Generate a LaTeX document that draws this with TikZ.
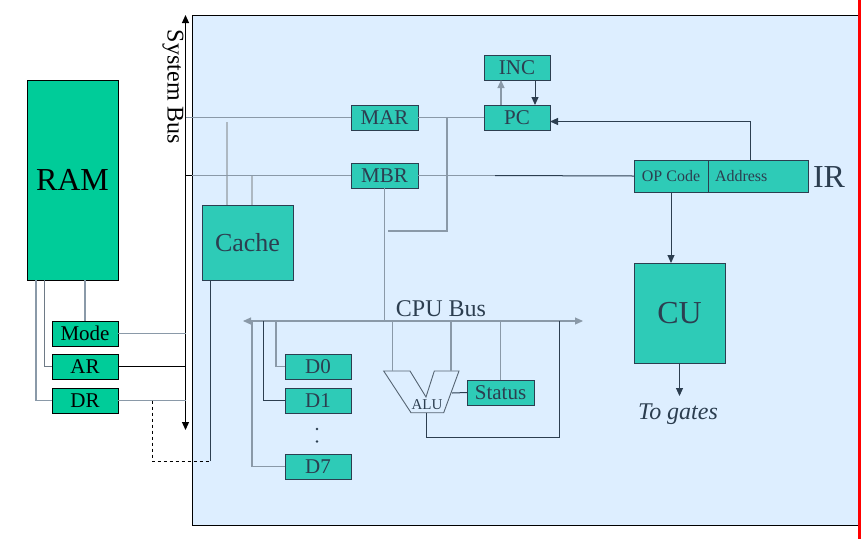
\documentclass[tikz,border=0pt]{standalone}
\usepackage{fontspec}
\setmainfont{Liberation Serif}
\usetikzlibrary{calc,arrows.meta}
\definecolor{panelblue}{HTML}{DDEEFF}
\definecolor{ramgreen}{HTML}{00CC99}
\definecolor{regteal}{HTML}{2ECBB7}
\definecolor{slate}{HTML}{2C3E50}
\definecolor{busgray}{HTML}{8A99A8}
\newcommand{\fsz}[1]{\fontsize{#1}{#1}\selectfont}
\tikzset{
  ramblk/.style={draw=black, fill=ramgreen, inner sep=0, outer sep=0, text=black},
  regblk/.style={draw=slate, fill=regteal, inner sep=0, outer sep=0, text=slate},
  busline/.style={draw=busgray, line width=1.1pt},
  wire/.style={draw=slate, line width=1pt},
  >={Triangle[length=8pt,width=7pt]}
}

\begin{document}
\begin{tikzpicture}[x=1pt,y=-1pt]
			%%%%% START %%%%%
			\useasboundingbox (0,0) rectangle (866,539);
			\draw[fill=panelblue] (192,15) rectangle (859,525);
			\draw[red, line width=3pt] (859.5,0) -- (859.5,539);
			
			% system bus
			\coordinate (sbtop) at (185.5,15);
			\coordinate (sbbot) at (185.5,430);
			\draw[<->, line width=1.2pt] (sbtop) -- (sbbot);
			\node[rotate=-90, font=\fsz{24}] (sblabel) at (173,87) {System Bus};
			
			% memory side
			\node[ramblk, minimum width=91pt, minimum height=200pt, font=\fsz{32}] (ram) at (72.5,180) {RAM};
			\node[ramblk, minimum width=66pt, minimum height=25pt, font=\fsz{21}] (mode) at (85,333.5) {Mode};
			\node[ramblk, minimum width=66pt, minimum height=25pt, font=\fsz{21}] (ar) at (85,366.5) {AR};
			\node[ramblk, minimum width=66pt, minimum height=25pt, font=\fsz{21}] (dr) at (85,400.5) {DR};
			
			\draw[busline] (mode.north) -- (mode.north |- ram.south);
			\draw[wire, draw=busgray!80!black] (ar.west) -| ($(ram.south)+(-28.5,0)$);
			\draw[busline] (dr.west) -| ($(ram.south)+(-36.5,0)$);
			\draw[busline] (mode.east) -- (mode.east -| sbtop);
			\draw[line width=1pt] (ar.east) -- (ar.east -| sbtop);
			\draw[busline] (dr.east) -- (dr.east -| sbtop);
			
			% cache
			\node[regblk, minimum width=91pt, minimum height=75pt, font=\fsz{26}] (cache) at (247.5,242.5) {Cache};
			\coordinate (dtap) at (152,400.5);
			\coordinate (dcor) at (152,461);
			\coordinate (cfoot) at (210,461);
			\draw[dashed, line width=1pt] (dtap) -- (dcor) -- (cfoot);
			\draw[wire] (cfoot) -- (cfoot |- cache.south);
			\draw[busline, draw=busgray!70] ($(cache.north west)+(25,0)$) -- ++(0,-83);
			\draw[busline, draw=busgray!70] ($(cache.north west)+(50,0)$) -- ++(0,-29);
			
			% registers
			\node[regblk, minimum width=67pt, minimum height=25pt, font=\fsz{21}] (mar) at (384.5,117.5) {MAR};
			\node[regblk, minimum width=67pt, minimum height=25pt, font=\fsz{21}] (mbr) at (384.5,175.5) {MBR};
			\node[regblk, minimum width=66pt, minimum height=25pt, font=\fsz{21}] (pc) at (517,117.5) {PC};
			\node[regblk, minimum width=66pt, minimum height=25pt, font=\fsz{21}] (inc) at (517,67.5) {INC};
			\node[regblk, minimum width=74pt, minimum height=32pt, font=\fsz{16}] (opcode) at (671,176) {OP Code};
			\node[regblk, minimum height=32pt, text width=86pt, inner xsep=7pt, align=left, font=\fsz{16}] (address) at (758,176) {Address};
			\node[font=\fsz{32}, text=slate] (irlabel) at (829,177) {IR};
			
			\draw[busline] (mar.west) -- (mar.west -| sbtop);
			\draw[busline] (mar.east) -- (pc.west);
			\draw[busline] ($(mar.east)!0.44!(pc.west)$) -- ++(0,113.5) -- ++(-59,0);
			\draw[busline, ->] ($(pc.north)+(-16,0)$) -- ($(inc.south)+(-16,0)$);
			\draw[wire, ->] ($(inc.south)+(18,0)$) -- ($(pc.north)+(18,0)$);
			\draw[line width=1pt] (sbtop |- mbr.west) -- ++(7,0);
			\draw[busline] (mbr.west) -- ($(mbr.west)+(-159,0)$);
			\draw[busline] (mbr.east) -- ++(77,0);
			\draw[wire] ($(mbr.east)+(77,0)$) -- (opcode.west);
			\draw[wire, ->] ($(address.north)+(-8,0)$) |- ($(pc.east)+(0,4)$);
			
			% control unit
			\node[regblk, minimum width=91pt, minimum height=100pt, font=\fsz{32}] (cu) at (679.5,313) {CU};
			\node[font=\fsz{24}\itshape, text=slate] (gates) at (678,414) {To gates};
			\draw[wire, ->] (opcode.south) -- (opcode.south |- cu.north);
			\draw[wire, ->] (cu.south) -- ($(cu.south)+(0,33)$);
			
			% cpu bus
			\coordinate (cbl) at (243,321);
			\coordinate (cbr) at (583,321);
			\draw[busline, <->] (cbl) -- (cbr);
			\node[font=\fsz{24}, text=slate] (cpubus) at (441,309) {CPU Bus};
			\draw[busline] (mbr.south) -- (mbr.south |- cbl);
			
			% data registers
			\node[regblk, minimum width=66pt, minimum height=25pt, font=\fsz{21}] (d0) at (318,366.5) {D0};
			\node[regblk, minimum width=66pt, minimum height=25pt, font=\fsz{21}] (d1) at (318,400.5) {D1};
			\node[regblk, minimum width=66pt, minimum height=25pt, font=\fsz{21}] (d7) at (318,466.5) {D7};
			\fill[slate] (317,429) circle (1.4);
			\fill[slate] (317,441.5) circle (1.4);
			\draw[busline] (d0.west) -| ($(cbl)+(33,0)$);
			\draw[wire] (d1.west) -| ($(cbl)+(20,0)$);
			\draw[busline] (d7.west) -| ($(cbl)+(9,0)$);
			
			% alu and status
			\coordinate (alua) at (392.7,371);
			\coordinate (alub) at (451,371);
			\coordinate (aluout) at (426,412.7);
			\draw[draw=slate!80, line width=0.9pt] (383.7,371) -- (410,371) -- (426,397) -- (434.3,371)
			  -- (459,371) -- (443.7,412.7) -- (411,412.7) -- cycle;
			\node[font=\fsz{15}, text=slate] (alulabel) at (427,405) {ALU};
			\node[regblk, minimum width=67pt, minimum height=25pt, font=\fsz{21}] (status) at (500.5,392.5) {Status};
			\draw[busline] (alua) -- (alua |- cbl);
			\draw[busline] (alub) -- (alub |- cbl);
			\draw[wire] (452,393) -- (status.west);
			\draw[busline] (status.north) -- (status.north |- cbl);
			\draw[wire] (aluout) -- ++(0,24.5) -- ++(133,0) -- ($(cbl)+(316,0)$);
			%%%%% END %%%%%
\end{tikzpicture}
\end{document}
